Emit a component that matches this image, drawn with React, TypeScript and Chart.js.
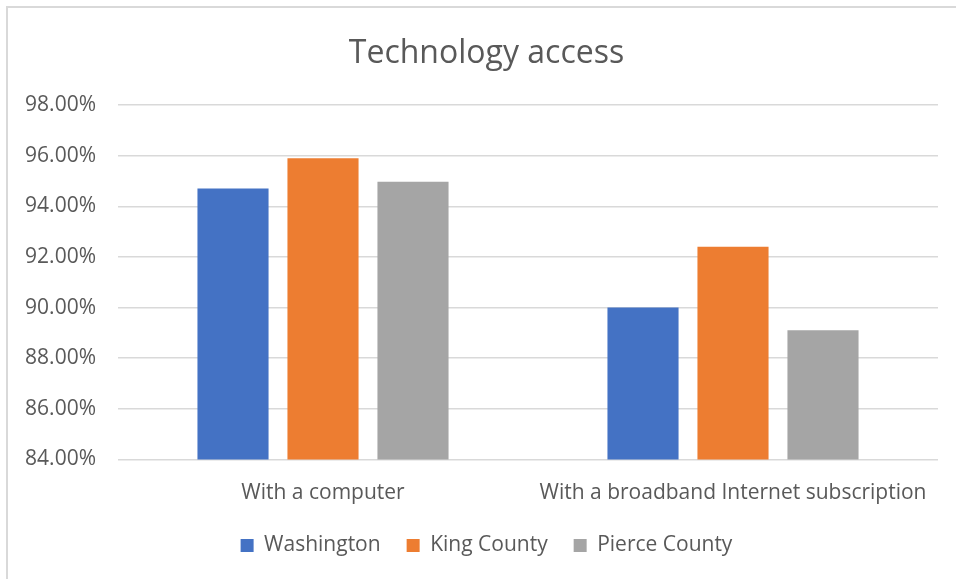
import React, { useEffect, useRef } from "react";
import { Chart, registerables } from "chart.js";

Chart.register(...registerables);

const categories = ["With a computer", "With a broadband Internet subscription"];
const seriesNames = ["Washington", "King County", "Pierce County"];
const washington = [94.7, 90.0];
const kingCounty = [95.9, 92.4];
const pierceCounty = [94.97, 89.1];
const seriesColors = ["#4472C4", "#ED7D31", "#A5A5A5"];
const yMin = 84;
const yMax = 98;
const yStep = 2;

const FONT = "'Open Sans', sans-serif";
const TEXT = "#595959";

export default function App() {
  const ref = useRef<HTMLCanvasElement | null>(null);

  useEffect(() => {
    if (!ref.current) return;
    const values = [washington, kingCounty, pierceCounty];
    const chart = new Chart(ref.current, {
      type: "bar",
      data: {
        labels: categories,
        datasets: seriesNames.map((name, i) => ({
          label: name,
          data: values[i],
          backgroundColor: seriesColors[i],
          borderWidth: 0,
          categoryPercentage: 0.6585,
          barPercentage: 0.79,
          yAxisID: "y",
        })),
      },
      options: {
        animation: false,
        responsive: false,
        maintainAspectRatio: false,
        layout: { padding: { left: 17, right: 0, top: 0, bottom: 13 } },
        plugins: {
          title: {
            display: true,
            text: "Technology access",
            color: TEXT,
            font: { family: FONT, size: 32, weight: "normal" },
            padding: { top: 34.5, bottom: 32.1 },
          },
          legend: {
            position: "bottom",
            labels: {
              color: TEXT,
              font: { family: FONT, size: 21 },
              boxWidth: 13,
              boxHeight: 13,
              padding: 26,
            },
          },
          tooltip: { enabled: false },
        },
        scales: {
          x: {
            grid: { display: false },
            border: { display: false },
            ticks: {
              color: TEXT,
              font: { family: FONT, size: 21 },
              padding: 13,
              maxRotation: 0,
            },
            afterFit: (scale: any) => {
              scale.height = 49.5;
            },
          },
          y: {
            min: yMin,
            max: yMax,
            border: { display: false },
            grid: { color: "#D9D9D9", lineWidth: 1.5, drawTicks: false },
            ticks: {
              stepSize: yStep,
              color: TEXT,
              font: { family: FONT, size: 21 },
              padding: 22,
              callback: (v: any) => Number(v).toFixed(2) + "%",
            },
            afterFit: (scale: any) => {
              scale.width = 101;
            },
          },
          yRight: {
            type: "linear",
            position: "right",
            min: yMin,
            max: yMax,
            grid: { display: false },
            border: { display: false },
            ticks: { display: false },
            afterFit: (scale: any) => {
              scale.width = 18;
            },
          },
        },
      },
    });
    return () => chart.destroy();
  }, []);

  return (
    <div
      style={{
        position: "fixed",
        left: 0,
        top: 0,
        width: 956,
        height: 579,
        background: "#fff",
        overflow: "hidden",
      }}
    >
      <canvas ref={ref} width={956} height={579} style={{ position: "absolute", left: 0, top: 0 }} />
      <div
        style={{
          position: "absolute",
          left: 6,
          top: 6,
          width: 1000,
          height: 1000,
          border: "2px solid #D9D9D9",
          pointerEvents: "none",
        }}
      />
    </div>
  );
}
